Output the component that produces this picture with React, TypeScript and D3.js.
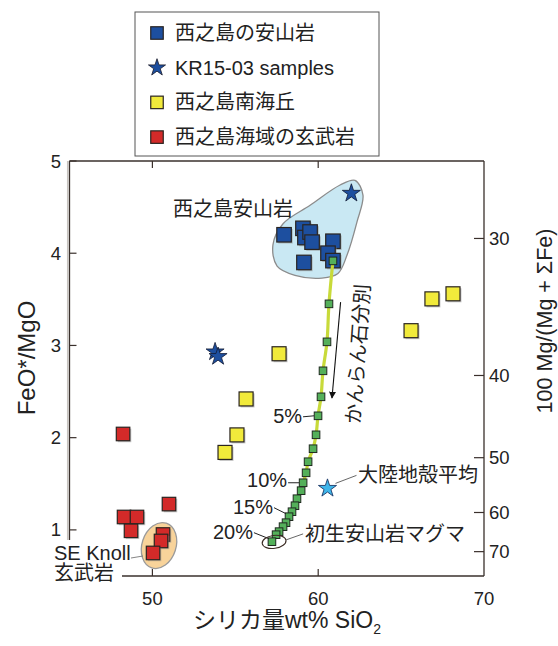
import React from 'react';
import * as d3 from 'd3';

const W = 558;
const H = 646;
const FONT = "'Liberation Sans', 'Noto Sans CJK JP', Arial, sans-serif";

// 西之島の安山岩 (blue squares)
const andesiteSiO2 = [57.94, 59.08, 59.2, 59.51, 59.63, 60.89, 60.59, 59.14, 60.89];
const andesiteRatio = [4.2, 4.27, 4.17, 4.23, 4.12, 4.13, 4.0, 3.9, 3.92];

// KR15-03 samples (blue stars)
const kr15SiO2 = [62.0, 53.78, 53.96];
const kr15Ratio = [4.65, 2.93, 2.88];

// 西之島南海丘 (yellow squares)
const southSiO2 = [66.86, 68.13, 65.6, 57.64, 55.65, 55.1, 54.38];
const southRatio = [3.505, 3.56, 3.16, 2.91, 2.42, 2.03, 1.84];

// 西之島海域の玄武岩 (red squares)
const basaltSiO2 = [48.23, 48.29, 49.07, 48.71, 51.0, 50.64, 50.52, 50.04];
const basaltRatio = [2.04, 1.14, 1.14, 0.99, 1.28, 0.95, 0.88, 0.75];

// olivine fractionation path, 0%..20% (green squares)
const fracSiO2 = [60.89, 60.65, 60.53, 60.29, 60.17, 59.99, 59.87, 59.69, 59.39, 59.27, 59.09,
  58.97, 58.72, 58.6, 58.42, 58.24, 58.06, 57.88, 57.64, 57.46, 57.21];
const fracRatio = [3.917, 3.451, 3.039, 2.725, 2.443, 2.237, 2.031, 1.88, 1.739, 1.619, 1.511,
  1.425, 1.338, 1.262, 1.197, 1.143, 1.078, 1.035, 0.981, 0.948, 0.872];
const fracLabels = ['5%', '10%', '15%', '20%'];
const fracLabelIdx = [5, 10, 15, 20];

// continental crust average
const crustSiO2 = [60.56];
const crustRatio = [1.45];

// outline of the Nishinoshima andesite field
const fieldSiO2 = [57.27, 57.88, 59.51, 61.32, 62.22, 62.7, 62.34, 61.74, 61.19, 60.23, 58.6, 57.52];
const fieldRatio = [4.09, 4.32, 4.52, 4.74, 4.79, 4.63, 4.34, 3.98, 3.78, 3.73, 3.76, 3.86];

const xTicks = [50, 60, 70];
const yTicks = [1, 2, 3, 4, 5];
const mgTicks = [30, 40, 50, 60, 70];

const legendLabels = ['西之島の安山岩', 'KR15-03 samples', '西之島南海丘', '西之島海域の玄武岩'];
const legendKinds = ['blueSq', 'star', 'yellowSq', 'redSq'];

const C = {
  blue: '#1d4f9f',
  yellow: '#f1ea3b',
  red: '#d32a29',
  green: '#54b05a',
  path: '#c8da3a',
  crust: '#3fb6ea',
  field: '#c9e8f3',
  knoll: '#f8d39a',
  axis: '#3a302c',
};

const x = d3.scaleLinear().domain([45, 70]).range([69.5, 484]);
const y = d3.scaleLinear().domain([0.5, 5]).range([576, 161]);
const mgToRatio = (m: number) => (100 / m - 1) * (71.85 / 40.3);

const starPath = (r: number) => d3.symbol().type(d3.symbolStar).size((r * r) / 0.8908130915)() as string;

function Sq({ cx, cy, s, fill, shadow = true }: { cx: number; cy: number; s: number; fill: string; shadow?: boolean }) {
  return (
    <g>
      {shadow && <rect x={cx - s / 2 + 1.5} y={cy - s / 2 + 1.5} width={s} height={s} fill="#8f8f8f" opacity={0.5} />}
      <rect x={cx - s / 2} y={cy - s / 2} width={s} height={s} fill={fill} stroke="#2a2420" strokeWidth={1.2} />
    </g>
  );
}

export default function App() {
  const fieldLine = d3.line<number>().x((i) => x(fieldSiO2[i])).y((i) => y(fieldRatio[i])).curve(d3.curveCatmullRomClosed.alpha(0.5));
  const fracLine = d3.line<number>().x((i) => x(fracSiO2[i])).y((i) => y(fracRatio[i])).curve(d3.curveCatmullRom.alpha(0.5));
  const idx = (a: number[]) => a.map((_, i) => i);

  const knollCx = x(50.4), knollCy = y(0.83);
  const primCx = x(57.34), primCy = y(0.87);
  const crustX = x(crustSiO2[0]), crustY = y(crustRatio[0]);

  const arrowX1 = x(61.35), arrowY1 = y(3.47), arrowX2 = x(60.83), arrowY2 = y(2.43);

  return (
    <svg width={W} height={H} style={{ position: 'absolute', left: 0, top: 0, background: '#fff' }} fontFamily={FONT}>
      <defs>
        <marker id="ah" viewBox="0 0 10 10" refX="9" refY="5" markerWidth="7" markerHeight="9" orient="auto" markerUnits="userSpaceOnUse">
          <path d="M0,0 L10,5 L0,10 Z" fill="#111" />
        </marker>
      </defs>

      {/* legend */}
      <rect x={135} y={12} width={244} height={144} fill="#fff" stroke="#555" strokeWidth={1} />
      {legendLabels.map((lab, i) => {
        const cy = 33 + i * 34.7;
        const k = legendKinds[i];
        return (
          <g key={lab}>
            {k === 'star' ? (
              <path d={starPath(9)} transform={`translate(157,${cy})`} fill={C.blue} stroke="#1a1a2a" strokeWidth={0.8} />
            ) : (
              <Sq cx={157} cy={cy} s={12.5} shadow={false} fill={k === 'blueSq' ? C.blue : k === 'yellowSq' ? C.yellow : C.red} />
            )}
            <text x={175} y={cy} dominantBaseline="central" fontSize={20} fill="#222">{lab}</text>
          </g>
        );
      })}

      {/* frame */}
      <line x1={x(45) - 1.8} y1={y(5)} x2={x(45) - 1.8} y2={540} stroke="#c8c4c0" strokeWidth={1.5} />
      <g stroke={C.axis} strokeWidth={1.3} fill="none">
        <line x1={x(45)} y1={y(5)} x2={x(70)} y2={y(5)} />
        <line x1={x(70)} y1={y(5)} x2={x(70)} y2={y(0.5)} />
        <line x1={122} y1={y(0.5)} x2={x(70)} y2={y(0.5)} />
        <line x1={x(45)} y1={y(5)} x2={x(45)} y2={540} />
      </g>
      {/* ticks */}
      <g stroke={C.axis} strokeWidth={1.2}>
        {yTicks.map((t) => (
          <line key={'yl' + t} x1={x(45)} x2={x(45) + 7} y1={y(t)} y2={y(t)} />
        ))}
        {xTicks.slice(0, 2).map((t) => (
          <g key={'xt' + t}>
            <line x1={x(t)} x2={x(t)} y1={y(0.5)} y2={y(0.5) - 7} />
            <line x1={x(t)} x2={x(t)} y1={y(5)} y2={y(5) + 7} />
          </g>
        ))}
        {mgTicks.map((m) => (
          <line key={'mg' + m} x1={x(70) - 10} x2={x(70)} y1={y(mgToRatio(m))} y2={y(mgToRatio(m))} />
        ))}
      </g>
      <g fontSize={18.5} fill="#222">
        {yTicks.map((t) => (
          <text key={'ylab' + t} x={61} y={y(t)} textAnchor="end" dominantBaseline="central">{t}</text>
        ))}
        {xTicks.map((t) => (
          <text key={'xlab' + t} x={x(t)} y={598} textAnchor="middle" dominantBaseline="central">{t}</text>
        ))}
        {mgTicks.map((m) => (
          <text key={'mglab' + m} x={489} y={y(mgToRatio(m))} dominantBaseline="central">{m}</text>
        ))}
      </g>

      {/* axis titles */}
      <text transform="translate(26,358) rotate(-90)" textAnchor="middle" dominantBaseline="central" fontSize={24} fill="#222">FeO*/MgO</text>
      <text x={287} y={628} textAnchor="middle" fontSize={23} fill="#222">
        シリカ量wt% SiO<tspan fontSize={14} dy={6}>2</tspan>
      </text>
      <text transform="translate(545,321) rotate(-90)" textAnchor="middle" dominantBaseline="central" fontSize={21.5} fill="#222">100 Mg/(Mg + ΣFe)</text>

      {/* andesite field */}
      <path d={fieldLine(idx(fieldSiO2)) as string} fill={C.field} stroke="#8c8c8c" strokeWidth={1.3} />
      <text x={293} y={209} textAnchor="end" dominantBaseline="central" fontSize={20} fill="#222">西之島安山岩</text>

      {/* SE knoll field */}
      <ellipse cx={knollCx} cy={knollCy} rx={17} ry={23.5} transform={`rotate(18,${knollCx},${knollCy})`} fill={C.knoll} stroke="#9a9a9a" strokeWidth={1.3} />

      {/* blue andesite squares */}
      {andesiteSiO2.map((v, i) => (
        <Sq key={'a' + i} cx={x(v)} cy={y(andesiteRatio[i])} s={14.5} fill={C.blue} />
      ))}
      {/* yellow */}
      {southSiO2.map((v, i) => (
        <Sq key={'s' + i} cx={x(v)} cy={y(southRatio[i])} s={14} fill={C.yellow} />
      ))}
      {/* red */}
      {basaltSiO2.map((v, i) => (
        <Sq key={'b' + i} cx={x(v)} cy={y(basaltRatio[i])} s={13.5} fill={C.red} />
      ))}
      {/* KR15 stars */}
      {kr15SiO2.map((v, i) => (
        <path key={'k' + i} d={starPath(9.5)} transform={`translate(${x(v)},${y(kr15Ratio[i])})`} fill={C.blue} stroke="#111a33" strokeWidth={0.8} />
      ))}

      {/* fractionation path */}
      <path d={fracLine(idx(fracSiO2)) as string} fill="none" stroke={C.path} strokeWidth={3.2} />
      {fracSiO2.map((v, i) => (
        <rect key={'f' + i} x={x(v) - 3.8} y={y(fracRatio[i]) - 3.8} width={7.6} height={7.6} fill={C.green} stroke="#1f2a1f" strokeWidth={1} />
      ))}

      {/* percent labels */}
      {fracLabels.map((lab, j) => {
        const i = fracLabelIdx[j];
        const px = x(fracSiO2[i]);
        const py = y(fracRatio[i]);
        const dx = [16, 16, 16, 19][j];
        const dy = [0, -3, -10, -10][j];
        const tx = px - dx;
        const ty = py + dy;
        return (
          <g key={lab}>
            <text x={tx} y={ty} textAnchor="end" dominantBaseline="central" fontSize={20} fill="#222">{lab}</text>
            <line x1={tx + 1} y1={j === 1 ? py : ty + 1} x2={j >= 2 ? px - 3 : px - 4} y2={j >= 2 ? py - 3 : py} stroke="#222" strokeWidth={1} />
          </g>
        );
      })}

      {/* primary andesite magma */}
      <ellipse cx={primCx} cy={primCy} rx={12} ry={6.5} transform={`rotate(-8,${primCx},${primCy})`} fill="none" stroke="#3a2a22" strokeWidth={1.1} />
      <line x1={primCx + 12} y1={primCy - 2} x2={primCx + 29} y2={primCy - 8} stroke="#555" strokeWidth={0.9} />
      <text x={305} y={534} dominantBaseline="central" fontSize={20} fill="#222">初生安山岩マグマ</text>

      {/* continental crust */}
      <line x1={crustX + 8} y1={crustY - 5} x2={crustX + 29} y2={crustY - 13} stroke="#555" strokeWidth={0.9} />
      <path d={starPath(9.5)} transform={`translate(${crustX},${crustY})`} fill={C.crust} stroke="#1c3866" strokeWidth={0.9} />
      <text x={358} y={475} dominantBaseline="central" fontSize={20} fill="#222">大陸地殻平均</text>

      {/* olivine fractionation arrow */}
      <line x1={arrowX1} y1={arrowY1} x2={arrowX2} y2={arrowY2} stroke="#111" strokeWidth={1.1} markerEnd="url(#ah)" />
      <text transform="translate(358,354) rotate(-86)" textAnchor="middle" dominantBaseline="central" fontSize={20} fill="#222">かんらん石分別</text>

      {/* SE Knoll label */}
      <line x1={131} y1={558} x2={143} y2={556} stroke="#777" strokeWidth={0.9} />
      <text x={54} y={553} dominantBaseline="central" fontSize={20} fill="#222">SE Knoll</text>
      <text x={54} y={573} dominantBaseline="central" fontSize={20} fill="#222">玄武岩</text>
    </svg>
  );
}
